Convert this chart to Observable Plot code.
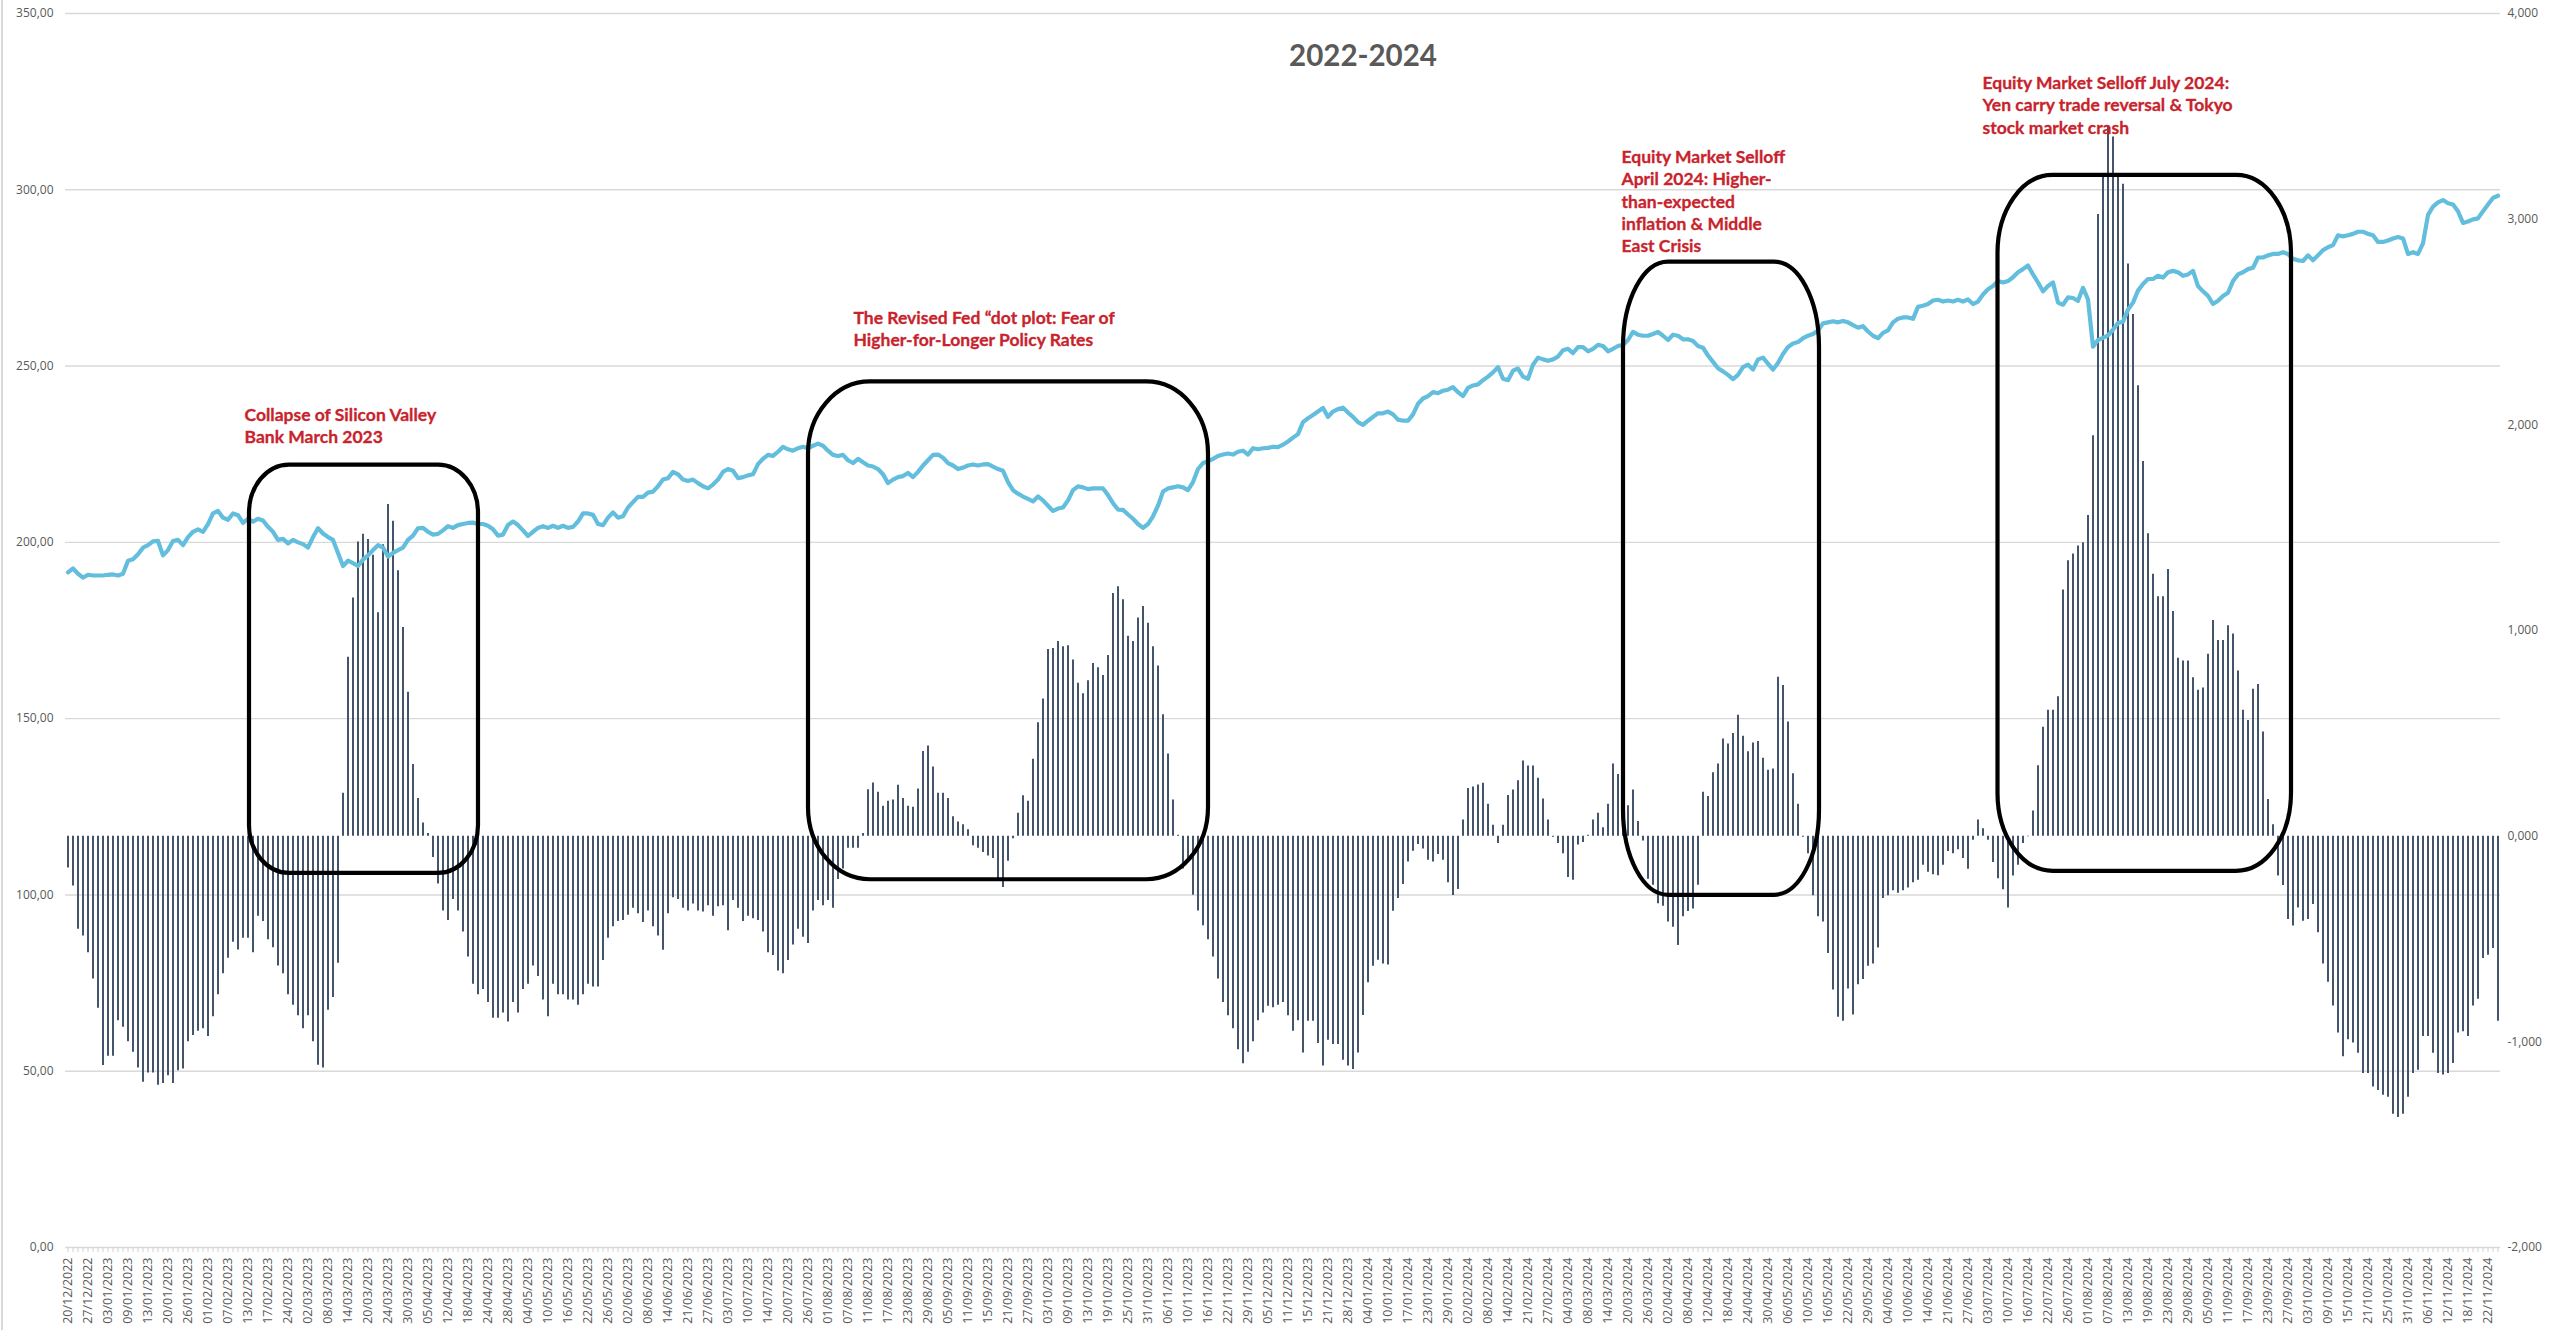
<!DOCTYPE html>
<html><head><meta charset="utf-8">
<script src="https://cdn.jsdelivr.net/npm/d3@7"></script>
<script src="https://cdn.jsdelivr.net/npm/@observablehq/plot@0.6"></script>
<style>
html,body{margin:0;padding:0;background:#fff;}
#chart{position:relative;width:2552px;height:1330px;overflow:hidden;background:#fff;}
#chart::before{content:"";position:absolute;left:1px;top:0;bottom:0;width:1.5px;background:#d9d9d9;}
#chart svg{display:block;overflow:visible;}
</style></head><body><div id="chart"></div>
<script>
// x categories: one label every 4 trading days
const xTickLabels = [
"20/12/2022","27/12/2022","03/01/2023","09/01/2023","13/01/2023","20/01/2023","26/01/2023","01/02/2023","07/02/2023","13/02/2023",
"17/02/2023","24/02/2023","02/03/2023","08/03/2023","14/03/2023","20/03/2023","24/03/2023","30/03/2023","05/04/2023","12/04/2023",
"18/04/2023","24/04/2023","28/04/2023","04/05/2023","10/05/2023","16/05/2023","22/05/2023","26/05/2023","02/06/2023","08/06/2023",
"14/06/2023","21/06/2023","27/06/2023","03/07/2023","10/07/2023","14/07/2023","20/07/2023","26/07/2023","01/08/2023","07/08/2023",
"11/08/2023","17/08/2023","23/08/2023","29/08/2023","05/09/2023","11/09/2023","15/09/2023","21/09/2023","27/09/2023","03/10/2023",
"09/10/2023","13/10/2023","19/10/2023","25/10/2023","31/10/2023","06/11/2023","10/11/2023","16/11/2023","22/11/2023","29/11/2023",
"05/12/2023","11/12/2023","15/12/2023","21/12/2023","28/12/2023","04/01/2024","10/01/2024","17/01/2024","23/01/2024","29/01/2024",
"02/02/2024","08/02/2024","14/02/2024","21/02/2024","27/02/2024","04/03/2024","08/03/2024","14/03/2024","20/03/2024","26/03/2024",
"02/04/2024","08/04/2024","12/04/2024","18/04/2024","24/04/2024","30/04/2024","06/05/2024","10/05/2024","16/05/2024","22/05/2024",
"29/05/2024","04/06/2024","10/06/2024","14/06/2024","21/06/2024","27/06/2024","03/07/2024","10/07/2024","16/07/2024","22/07/2024",
"26/07/2024","01/08/2024","07/08/2024","13/08/2024","19/08/2024","23/08/2024","29/08/2024","05/09/2024","11/09/2024","17/09/2024",
"23/09/2024","27/09/2024","03/10/2024","09/10/2024","15/10/2024","21/10/2024","25/10/2024","31/10/2024","06/11/2024","12/11/2024",
"18/11/2024","22/11/2024"
];

// bar series (right axis), one value per trading day
const netFlow = [
-155,-242,-453,-486,-567,-695,-837,-1115,-1070,-1070,
-898,-929,-1000,-1051,-1127,-1196,-1152,-1152,-1211,-1203,
-1165,-1203,-1140,-1132,-1000,-969,-949,-936,-974,-878,
-771,-669,-593,-516,-554,-496,-496,-567,-389,-415,
-504,-542,-631,-669,-771,-822,-873,-936,-873,-1000,
-1114,-1127,-847,-784,-618,
209,870,1158,1430,1468,1442,1366,1086,1417,1613,1531,1290,1015,700,349,183,64,13,
-104,-232,-364,-410,-308,-364,-466,-588,-720,-771,
-745,-809,-885,-885,-860,-903,-809,-860,-745,-720,
-631,-682,-796,-878,-720,-771,-771,-796,-796,-822,
-771,-720,-733,-733,-605,-496,-440,-415,-410,-384,
-351,-377,-420,-364,-440,-486,-555,-377,-300,-308,
-351,-364,
-330,-364,-369,-338,-389,-343,-338,-460,-313,-351,
-415,-389,-402,-410,-466,-567,-580,-656,-669,-605,
-529,-453,-491,-522,-364,-313,-338,-313,-351,-211,
-160,-59,-59,-59,
13,226,259,214,145,170,176,247,183,145,
140,229,412,438,336,209,209,183,94,69,
56,31,
-46,-59,-79,-97,-109,-206,-249,-122,-13,
112,196,170,374,552,667,908,913,946,921,
926,857,743,692,756,840,819,781,878,1180,
1213,1150,972,946,1061,1117,1035,921,827,590,
399,176,5,
-160,-122,-287,-364,-435,-504,-588,-695,-809,-873,
-936,-1038,-1107,-1051,-1000,-898,-860,-827,-834,-822,
-809,-873,-949,-898,
-1054,-900,-900,-1008,-1118,-992,-1013,-1013,-1089,-1118,
-1135,-1054,-872,-713,-632,-603,-621,-627,-365,-303,
-235,-126,-73,-41,-62,-117,-126,-89,-117,-227,
-289,-259,
79,232,239,249,257,155,53,-36,53,198,
224,270,366,341,341,282,181,79,-5,-36,
-86,-201,-214,-43,-31,5,79,112,41,155,
351,300,239,148,224,71,-23,-209,-239,-328,
-341,-417,-443,-532,-392,-366,-354,-239,214,193,
308,351,473,448,499,588,486,410,453,460,
379,321,326,773,733,555,303,155,-5,-86,
-290,-392,-417,-570,-748,-880,-900,-743,-870,-722,
-697,-633,-621,-544,-303,-290,-265,-277,-265,-252,
-226,-214,-142,-176,-188,-193,-142,-74,-86,-66,
-109,-161,-20,79,36,-20,-128,-207,-260,-349,
-194,-141,-36,-3,122,342,530,612,612,678,
1197,1339,1372,1411,1427,1559,1947,3023,3213,3450,
3400,3213,3170,2782,2536,2190,1822,1470,1273,1164,
1164,1296,1092,865,852,852,770,710,720,885,
1049,951,951,1023,983,803,612,562,714,737,
507,178,56,-194,-240,-405,-437,-349,-414,-405,
-332,-470,-622,-710,-826,-957,-1072,-990,-1006,-1056,
-1154,-1154,-1220,-1237,-1260,-1270,-1352,-1368,-1352,-1270,
-1154,-1138,-974,-974,-1056,-1154,-1161,-1154,-1105,-957,
-951,-974,-826,-793,-595,-579,-546,-900
];

// line series (left axis), one value per trading day
const priceLevel = [
191.5,192.6,191.1,190.0,190.8,190.6,190.6,190.6,190.8,190.9,
190.6,191.1,194.8,195.2,196.6,198.5,199.2,200.3,200.4,196.3,
197.8,200.4,200.7,199.2,201.5,203.0,203.7,203.0,205.2,208.2,
208.9,207.0,206.4,208.2,207.7,205.5,206.7,205.9,206.7,206.2,
204.4,203.0,200.7,201.0,199.7,200.7,200.0,199.5,198.5,201.5,
204.0,202.5,201.5,200.7,197.0,193.3,194.8,194.1,193.3,195.1,
196.3,197.8,199.2,198.5,196.0,197.0,197.8,198.5,200.7,201.9,
204.0,204.1,203.0,202.2,202.4,203.4,204.6,204.1,204.9,205.2,
205.5,205.6,205.2,205.2,204.7,203.7,201.9,202.2,204.9,205.9,
204.9,203.4,201.8,203.0,204.1,204.6,204.1,204.7,204.1,204.7,
204.1,204.4,205.9,208.2,208.2,207.8,205.2,204.9,207.0,208.5,
207.0,207.4,209.9,211.4,212.9,212.9,214.1,214.4,215.9,217.8,
218.2,220.0,219.3,217.8,217.4,
217.8,216.8,215.9,215.3,216.4,217.8,220.0,220.8,220.3,218.2,
218.5,219.0,219.3,222.2,223.7,224.8,224.5,225.7,227.1,226.4,
226.0,226.7,227.1,226.7,227.4,228.0,227.4,226.0,224.8,224.5,
224.8,223.3,222.5,223.7,222.7,221.8,221.5,220.8,219.3,216.8,
217.8,218.5,218.8,219.7,218.5,220.0,221.8,223.3,224.8,224.9,
224.0,222.5,221.8,220.8,221.2,221.8,222.1,221.8,222.1,222.2,
221.5,220.8,220.3,217.1,214.8,213.8,213.0,212.3,211.6,213.0,
211.9,210.4,208.9,209.6,209.9,211.9,214.8,215.9,215.6,215.1,
215.3,215.3,215.3,213.4,211.1,209.3,209.2,207.9,206.7,205.2,
204.1,205.2,207.4,210.4,214.4,215.3,215.6,215.9,215.6,214.8,
217.1,220.8,222.5,223.0,223.7,224.5,224.9,225.2,224.9,225.7,
226.0,224.9,226.7,226.4,226.7,226.8,227.1,227.0,227.7,228.6,
229.7,230.7,234.1,235.2,236.1,237.1,238.1,
235.6,237.1,237.8,238.2,236.8,235.6,234.1,233.3,234.5,235.6,
236.6,236.6,237.1,236.3,234.8,234.5,234.5,236.3,239.3,240.8,
241.5,242.6,242.3,243.0,243.3,244.0,242.6,241.5,243.8,244.5,
244.8,246.0,247.0,248.2,249.7,246.4,246.0,248.7,249.3,247.0,
246.4,250.4,252.4,251.9,251.5,251.9,252.7,254.5,254.9,253.7,
255.4,255.4,254.2,254.9,256.0,255.7,254.2,254.9,255.7,256.0,
257.4,259.7,258.9,258.6,258.6,259.1,259.7,258.6,257.4,258.9,
258.6,257.6,257.6,257.1,255.7,255.2,253.0,251.2,249.4,248.5,
247.5,246.3,247.5,249.7,250.4,249.0,251.9,252.4,250.7,249.0,
250.9,253.4,255.4,256.4,256.8,257.9,258.6,259.1,260.1,262.1,
262.4,262.7,262.4,262.8,262.4,261.6,260.9,261.3,259.8,258.6,
257.9,259.4,260.1,262.4,263.4,263.8,263.8,263.4,266.8,267.1,
267.6,268.6,268.8,268.3,268.6,268.3,268.8,
268.3,268.9,267.6,268.3,270.3,271.8,272.7,274.1,273.7,274.1,
275.2,276.6,277.5,278.5,276.0,273.7,271.2,272.7,273.7,268.0,
267.4,269.5,269.3,268.5,272.2,268.9,255.5,257.4,258.0,258.7,
260.3,262.2,262.6,266.0,268.0,271.4,273.3,274.7,274.7,275.6,
275.1,276.6,277.0,276.6,275.6,276.0,277.0,272.7,271.2,269.9,
267.6,268.5,269.9,270.8,274.1,276.0,276.6,277.5,277.9,280.8,
280.8,281.4,281.8,281.8,282.3,281.8,280.4,280.0,279.8,281.4,
280.0,281.4,282.9,283.7,284.3,287.1,286.8,287.1,287.5,288.1,
288.1,287.5,287.1,285.2,285.2,285.6,286.2,286.6,286.2,281.8,
282.3,281.8,284.8,292.9,295.2,296.4,297.1,296.2,295.8,293.9,
290.6,291.0,291.6,291.9,293.9,295.8,297.7,298.3
];

const leftTicks = [0, 50, 100, 150, 200, 250, 300, 350];
const leftTickLabels = ["0,00","50,00","100,00","150,00","200,00","250,00","300,00","350,00"];
const rightTicks = [-2000, -1000, 0, 1000, 2000, 3000, 4000];
const rightTickLabels = ["-2,000","-1,000","0,000","1,000","2,000","3,000","4,000"];

const titleText = "2022-2024";

// annotation texts (x in trading-day index, y in left-axis units = top of text block)
const notes = [
  {x: 35.3, y: 238.9, text: "Collapse of Silicon Valley\nBank March 2023"},
  {x: 157.1, y: 266.4, text: "The Revised Fed \u201Cdot plot: Fear of\nHigher-for-Longer Policy Rates"},
  {x: 310.7, y: 312.0, text: "Equity Market Selloff\nApril 2024: Higher-\nthan-expected\ninflation & Middle\nEast Crisis"},
  {x: 382.9, y: 333.0, text: "Equity Market Selloff July 2024:\nYen carry trade reversal & Tokyo\nstock market crash"}
];
// highlight boxes (x in trading-day index, y in left-axis units)
const boxes = [
  {x1: 36.3, x2: 82.1, y1: 106.1, y2: 221.9, rx: 40, ry: 48},
  {x1: 148.1, x2: 228.1, y1: 104.3, y2: 245.5, rx: 62, ry: 72},
  {x1: 311.1, x2: 350.3, y1: 99.9, y2: 279.5, rx: 45, ry: 85},
  {x1: 386.0, x2: 444.7, y1: 106.7, y2: 304.1, rx: 55, ry: 78}
];

const RMIN = -2000, RMAX = 4000, LMAX = 350;
const toLeft = v => (v - RMIN) * LMAX / (RMAX - RMIN);

const rows = netFlow.map((v, i) => ({i, flow: v, level: priceLevel[i]}));
const n = netFlow.length;

const annFont = "'Liberation Sans Narrow', Lato, 'Open Sans', sans-serif";

const chart = Plot.plot({
  width: 2552, height: 1330,
  marginLeft: 65, marginRight: 52, marginTop: 13, marginBottom: 83,
  style: {fontFamily: "'Open Sans', sans-serif", fontSize: "12px", color: "#595959", background: "#fff", overflow: "visible"},
  x: {type: "linear", domain: [-0.5, n - 0.5]},
  y: {domain: [0, LMAX]},
  marks: [
    Plot.gridY({ticks: leftTicks, stroke: "#d9d9d9", strokeOpacity: 1, strokeWidth: 1.4}),
    Plot.axisY({ticks: leftTicks, anchor: "left", tickSize: 0, tickPadding: 12, label: null,
      tickFormat: d => leftTickLabels[leftTicks.indexOf(d)], fill: "#595959", fontSize: 12}),
    Plot.axisY({ticks: rightTicks.map(toLeft), anchor: "right", tickSize: 0, tickPadding: 7, label: null,
      tickFormat: d => rightTickLabels[rightTicks.findIndex(t => Math.abs(toLeft(t) - d) < 1e-6)], fill: "#595959", fontSize: 12}),
    Plot.axisX({ticks: d3.range(n), tickSize: 5, tickFormat: () => "", stroke: "#d0d0d0", strokeOpacity: 1, label: null}),
    Plot.axisX({ticks: xTickLabels.map((_, k) => k * 4), tickSize: 0, tickPadding: 10, tickRotate: -90, label: null,
      tickFormat: d => xTickLabels[Math.round(d / 4)], fill: "#595959", fontSize: 12.5}),
    Plot.ruleX(rows, {x: "i", y1: toLeft(0), y2: d => toLeft(d.flow), stroke: "#44546A", strokeWidth: 2}),
    Plot.line(rows, {x: "i", y: "level", stroke: "#62BEDC", strokeWidth: 4.2, strokeLinejoin: "round", strokeLinecap: "round"}),
    ...boxes.map(b => Plot.rect([b], {x1: "x1", x2: "x2", y1: "y1", y2: "y2", rx: b.rx, ry: b.ry,
      fill: "none", stroke: "#000", strokeWidth: 4.2})),
    Plot.text(notes, {x: "x", y: "y", text: "text", textAnchor: "start", lineAnchor: "top", lineHeight: 1.27,
      fill: "#C8232C", fontWeight: "bold", fontSize: 17.5, fontFamily: annFont, stroke: "#C8232C", strokeWidth: 0.3}),
    Plot.text([titleText], {frameAnchor: "top", dx: 80, dy: 32, fill: "#595959", fontWeight: "bold",
      fontSize: 29.5, fontFamily: annFont})
  ]
});
document.getElementById("chart").appendChild(chart);
</script>
</body></html>
